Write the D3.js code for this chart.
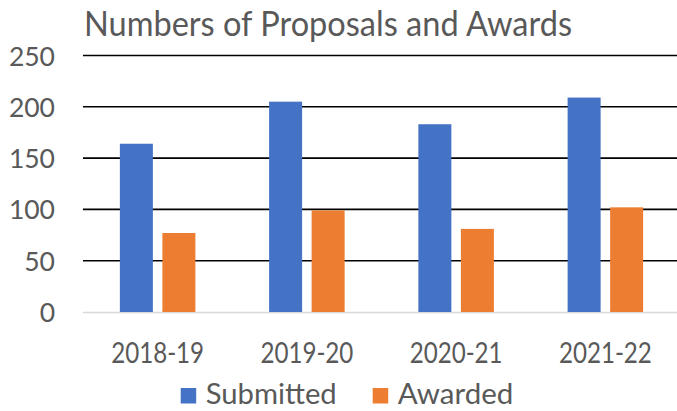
<!DOCTYPE html>
<html><head><meta charset="utf-8">
<script src="https://cdn.jsdelivr.net/npm/d3@7"></script>
<style>
html,body{margin:0;padding:0;background:#fff;}
svg{display:block;font-family:Lato,"Open Sans",sans-serif;}
</style></head>
<body><svg id="c" width="677" height="411"></svg>
<script>
const categories = ["2018-19", "2019-20", "2020-21", "2021-22"];
const seriesNames = ["Submitted", "Awarded"];
const submitted = [164, 205, 183, 209];
const awarded = [77, 99, 81, 102];
const yTicks = [0, 50, 100, 150, 200, 250];
const colors = ["#4472C4", "#ED7D31"];
const title = "Numbers of Proposals and Awards";

(function(){
const data = categories.map((c, i) => ({cat: c, values: [submitted[i], awarded[i]]}));
const svg = d3.select("#c");
const W = 677, H = 411;
const pLeft = 83, pRight = 680, pTop = 55.5, pBottom = 312;

const x0 = d3.scaleBand().domain(categories).range([pLeft, pRight]).padding(0);
const groupW = x0.bandwidth() * 0.506;
const x1 = d3.scaleBand().domain(seriesNames).range([0, groupW]).paddingInner(0.224).paddingOuter(0);
const y = d3.scaleLinear().domain([0, 250]).range([pBottom, pTop]);

const yAxis = d3.axisLeft(y).tickValues(yTicks).tickSize(0).tickPadding(0);
const ga = svg.append("g").attr("transform", `translate(${pLeft},0)`).call(yAxis);
ga.select(".domain").remove();
ga.selectAll("text").attr("x", -28).attr("font-size", 26.5).attr("fill", "#595959")
  .attr("font-family", "Lato").attr("dy", "0.36em");

svg.append("g").selectAll("line").data(yTicks.filter(d => d > 0)).join("line")
  .attr("x1", pLeft).attr("x2", W).attr("y1", d => y(d)).attr("y2", d => y(d))
  .attr("stroke", "#000").attr("stroke-width", 1.6);
svg.append("line").attr("x1", pLeft).attr("x2", W).attr("y1", y(0)+0.5).attr("y2", y(0)+0.5)
  .attr("stroke", "#d9d9d9").attr("stroke-width", 1.5);

const groups = svg.append("g").selectAll("g").data(data).join("g")
  .attr("transform", d => `translate(${x0(d.cat) + (x0.bandwidth() - groupW) / 2},0)`);
groups.selectAll("rect").data(d => d.values.map((v, k) => ({k, v}))).join("rect")
  .attr("x", d => x1(seriesNames[d.k])).attr("width", x1.bandwidth())
  .attr("y", d => y(d.v)).attr("height", d => y(0) - y(d.v))
  .attr("fill", d => colors[d.k]);

const xAxis = d3.axisBottom(x0).tickSize(0).tickPadding(0);
const gx = svg.append("g").attr("transform", `translate(0,${pBottom})`).call(xAxis);
gx.select(".domain").remove();
gx.selectAll("text").attr("y", 51).attr("dy", 0).attr("font-size", 28).attr("fill", "#595959")
  .attr("font-family", "Lato").attr("textLength", 93).attr("lengthAdjust", "spacingAndGlyphs");

svg.append("text").attr("x", 84).attr("y", 36).attr("font-size", 34).attr("fill", "#595959")
  .attr("textLength", 488).attr("lengthAdjust", "spacingAndGlyphs")
  .text(title);

const legX = [180.7, 372.7];
const legTL = [131, 115.6];
const leg = svg.append("g").selectAll("g").data(seriesNames).join("g")
  .attr("transform", (d, i) => `translate(${legX[i]},0)`);
leg.append("rect").attr("x", 0).attr("y", 388).attr("width", 15.5).attr("height", 15.5).attr("fill", (d, i) => colors[i]);
leg.append("text").attr("x", 25).attr("y", 404).attr("font-size", 29).attr("fill", "#595959")
  .attr("textLength", (d, i) => legTL[i]).attr("lengthAdjust", "spacingAndGlyphs").text(d => d);
})();
</script></body></html>
